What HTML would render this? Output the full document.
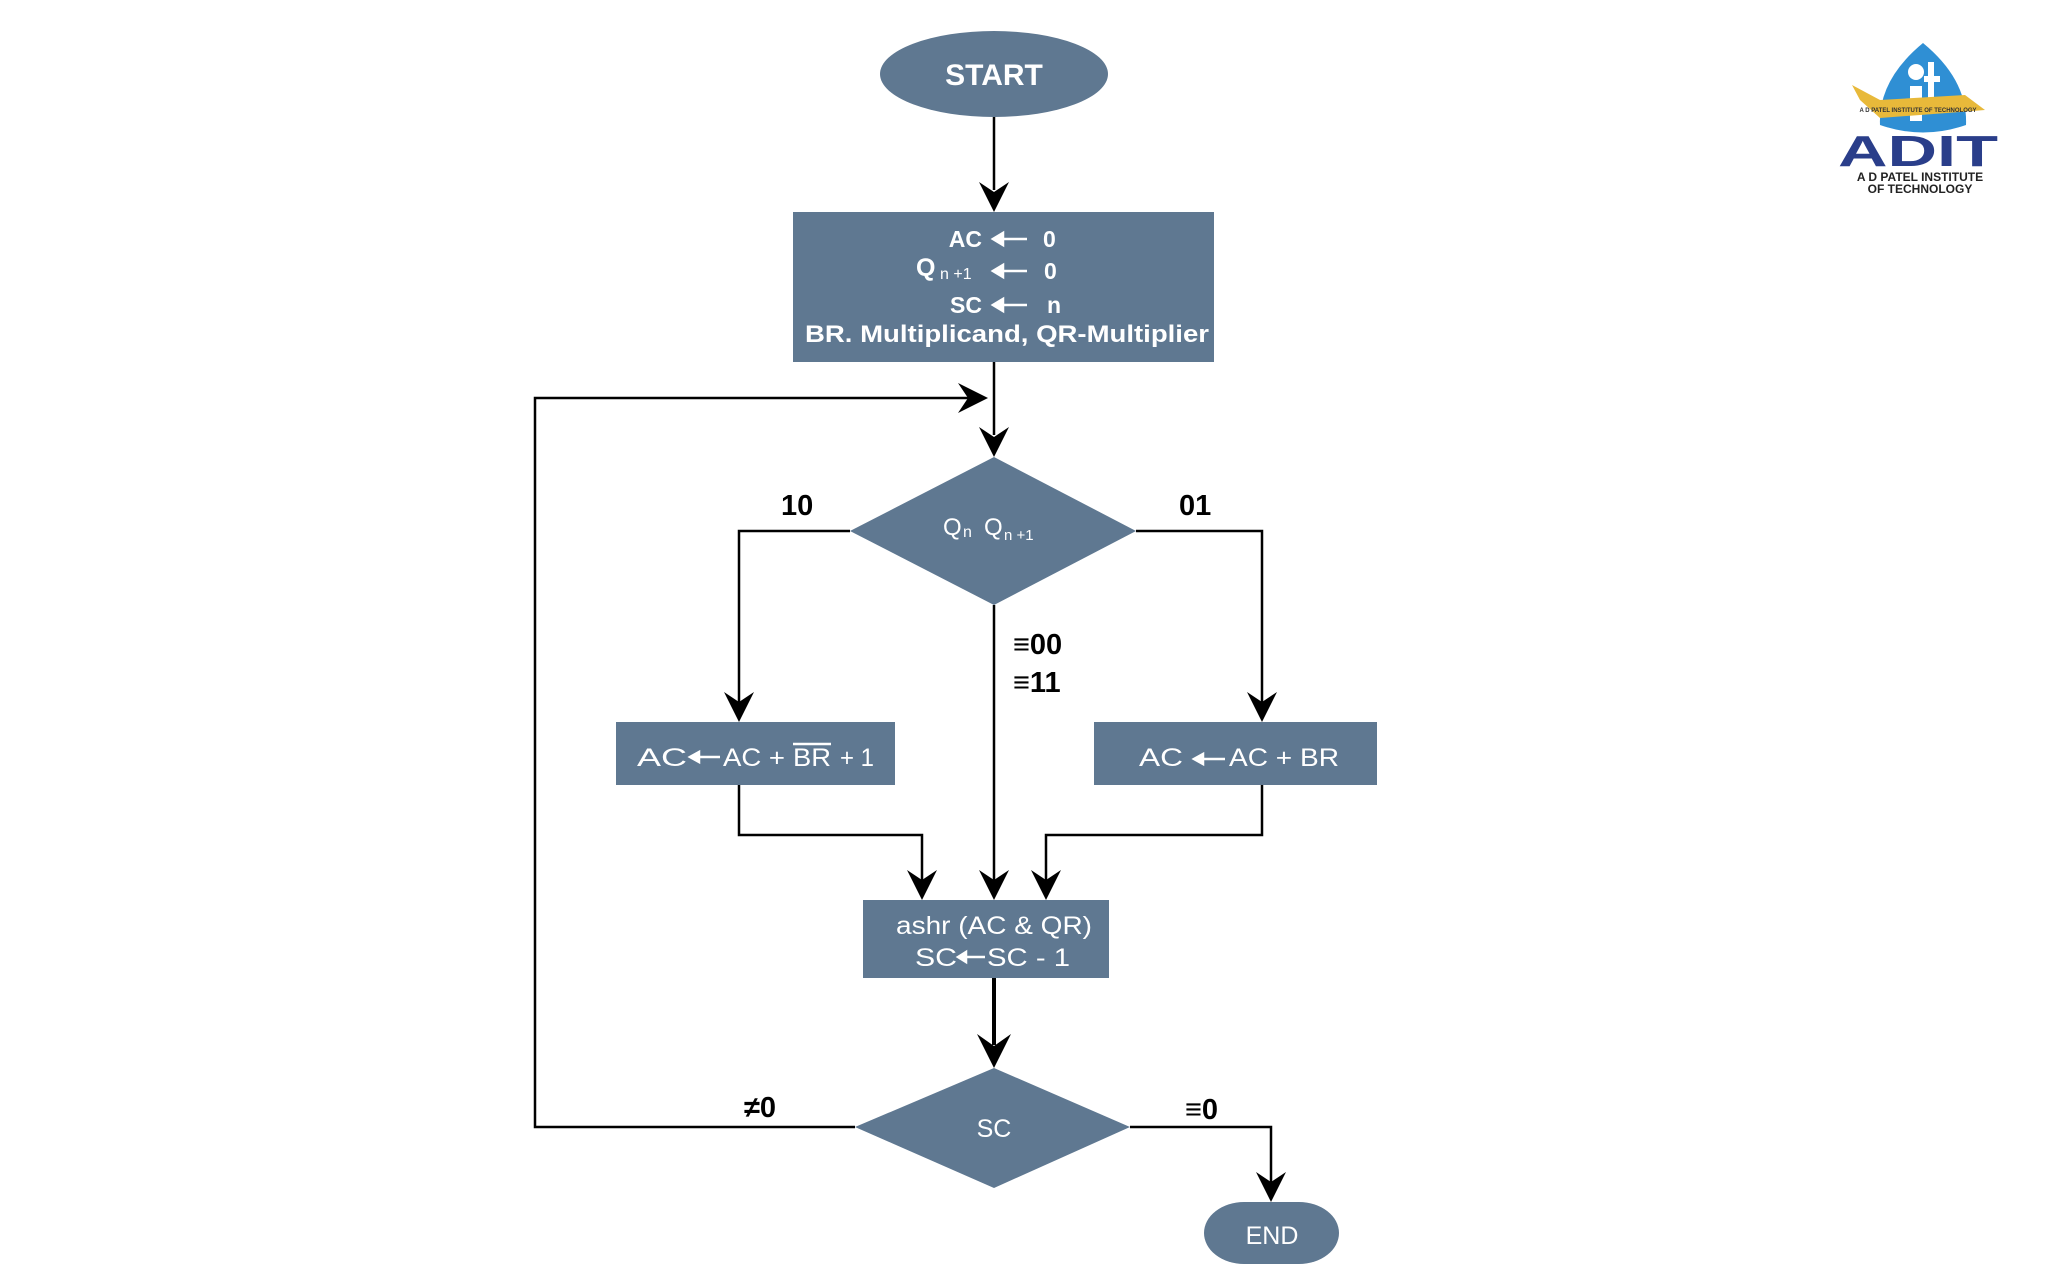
<!DOCTYPE html>
<html><head><meta charset="utf-8"><style>
html,body{margin:0;padding:0;background:#fff;}
svg{display:block;}
text{font-family:"Liberation Sans",Arial,sans-serif;}
</style></head><body>
<svg width="2048" height="1283" viewBox="0 0 2048 1283" xmlns="http://www.w3.org/2000/svg">
<g fill="#5f7891">
<ellipse cx="994" cy="74" rx="114" ry="43"/>
<rect x="793" y="212" width="421" height="150"/>
<polygon points="994,457 1136,531 994,605 850,531"/>
<rect x="616" y="722" width="279" height="63"/>
<rect x="1094" y="722" width="283" height="63"/>
<rect x="863" y="900" width="246" height="78"/>
<polygon points="994,1068 1130,1127 994,1188 855,1127"/>
<rect x="1204" y="1202" width="135" height="62" rx="40" ry="31"/>
</g>
<g stroke="#000" stroke-width="2.5" fill="none">
<line x1="994" y1="117" x2="994" y2="190"/>
<line x1="994" y1="362" x2="994" y2="435"/>
<polyline points="855,1127 535,1127 535,398 970,398"/>
<polyline points="850,531 739,531 739,702"/>
<polyline points="1136,531 1262,531 1262,702"/>
<line x1="994" y1="605" x2="994" y2="880"/>
<polyline points="739,785 739,835 922,835 922,880"/>
<polyline points="1262,785 1262,835 1046,835 1046,880"/>
<line x1="994" y1="978" x2="994" y2="1045" stroke-width="4"/>
<polyline points="1130,1127 1271,1127 1271,1182"/>
</g>
<g fill="#000">
<path d="M979,182 L994,212 L1009,182 L994,192 Z"/>
<path d="M979,427 L994,457 L1009,427 L994,437 Z"/>
<path d="M958,383 L988,398 L958,413 L968,398 Z"/>
<path d="M724,692 L739,722 L754,692 L739,702 Z"/>
<path d="M1247,692 L1262,722 L1277,692 L1262,702 Z"/>
<path d="M907,870 L922,900 L937,870 L922,880 Z"/>
<path d="M979,870 L994,900 L1009,870 L994,880 Z"/>
<path d="M1031,870 L1046,900 L1061,870 L1046,880 Z"/>
<path d="M977,1034 L994,1068 L1011,1034 L994,1046 Z"/>
<path d="M1256,1172 L1271,1202 L1286,1172 L1271,1182 Z"/>
</g>
<g stroke="#fff" stroke-width="2.5" fill="#fff">
<line x1="998" y1="239" x2="1027" y2="239"/><path d="M993,239 L1003,233 L1003,245 Z"/>
<line x1="998" y1="271" x2="1027" y2="271"/><path d="M993,271 L1003,265 L1003,277 Z"/>
<line x1="998" y1="305" x2="1027" y2="305"/><path d="M993,305 L1003,299 L1003,311 Z"/>
<line x1="696" y1="757" x2="720" y2="757"/><path d="M690,757 L699,752 L699,762 Z"/>
<line x1="1200" y1="759" x2="1225" y2="759"/><path d="M1194,759 L1203,754 L1203,764 Z"/>
<line x1="964" y1="957" x2="985" y2="957"/><path d="M958,957 L966,952 L966,962 Z"/>
<line x1="793" y1="744" x2="831" y2="744"/>
</g>
<g fill="#fff">
<text x="994" y="85" font-size="30" font-weight="bold" text-anchor="middle">START</text>
<text x="982" y="247" font-size="23" font-weight="bold" text-anchor="end">AC</text>
<text x="1043" y="247" font-size="23" font-weight="bold">0</text>
<text x="916" y="276" font-size="25" font-weight="bold">Q</text><text x="940" y="279" font-size="16">n +1</text>
<text x="1044" y="279" font-size="23" font-weight="bold">0</text>
<text x="982" y="313" font-size="23" font-weight="bold" text-anchor="end">SC</text>
<text x="1047" y="313" font-size="23" font-weight="bold">n</text>
<text x="1007" y="342" font-size="24" font-weight="bold" text-anchor="middle" textLength="404" lengthAdjust="spacingAndGlyphs">BR. Multiplicand, QR-Multiplier</text>
<text x="943" y="535" font-size="24">Q</text><text x="963" y="537" font-size="16">n</text>
<text x="984" y="535" font-size="24">Q</text><text x="1004" y="540" font-size="15">n  +1</text>
<text x="637" y="766" font-size="25" textLength="50" lengthAdjust="spacingAndGlyphs">AC</text>
<text x="723" y="766" font-size="25" textLength="62" lengthAdjust="spacingAndGlyphs">AC +</text>
<text x="793" y="766" font-size="25" textLength="38" lengthAdjust="spacingAndGlyphs">BR</text>
<text x="840" y="766" font-size="25" textLength="34" lengthAdjust="spacingAndGlyphs">+ 1</text>
<text x="1139" y="766" font-size="25" textLength="44" lengthAdjust="spacingAndGlyphs">AC</text>
<text x="1229" y="766" font-size="25" textLength="110" lengthAdjust="spacingAndGlyphs">AC + BR</text>
<text x="896" y="934" font-size="25" textLength="196" lengthAdjust="spacingAndGlyphs">ashr (AC &amp; QR)</text>
<text x="915" y="966" font-size="25" textLength="42" lengthAdjust="spacingAndGlyphs">SC</text>
<text x="987" y="966" font-size="25" textLength="83" lengthAdjust="spacingAndGlyphs">SC - 1</text>
<text x="994" y="1137" font-size="25" text-anchor="middle">SC</text>
<text x="1272" y="1244" font-size="25" text-anchor="middle">END</text>
</g>
<g fill="#000" font-size="29" font-weight="bold">
<text x="781" y="515">10</text>
<text x="1179" y="515">01</text>
<text x="1013" y="654">≡00</text>
<text x="1013" y="692">≡11</text>
<text x="744" y="1117">≠0</text>
<text x="1185" y="1119">≡0</text>
</g>
<g>
<path d="M1880,125 Q1878,80 1923,43 Q1968,80 1966,125 Q1923,140 1880,125 Z" fill="#2f8fd4"/>
<circle cx="1916" cy="72" r="8" fill="#fff"/>
<rect x="1910" y="86" width="12" height="35" fill="#fff"/>
<rect x="1928" y="62" width="6" height="40" fill="#fff"/>
<rect x="1924" y="76" width="16" height="6" fill="#fff"/>
<path d="M1852,85 L1880,100 L1965,95 L1985,110 L1960,112 L1880,118 L1860,100 Z" fill="#e8b93a"/>
<text x="1918" y="112" font-size="6" text-anchor="middle" fill="#333" font-weight="bold">A D PATEL INSTITUTE OF TECHNOLOGY</text>
<text x="1918" y="166" font-size="44" text-anchor="middle" fill="#2a3e8a" font-weight="bold" textLength="160" lengthAdjust="spacingAndGlyphs">ADIT</text>
<text x="1920" y="181" font-size="12" text-anchor="middle" fill="#222" font-weight="bold">A D PATEL INSTITUTE</text>
<text x="1920" y="193" font-size="12" text-anchor="middle" fill="#222" font-weight="bold">OF TECHNOLOGY</text>
</g>
</svg>
</body></html>
